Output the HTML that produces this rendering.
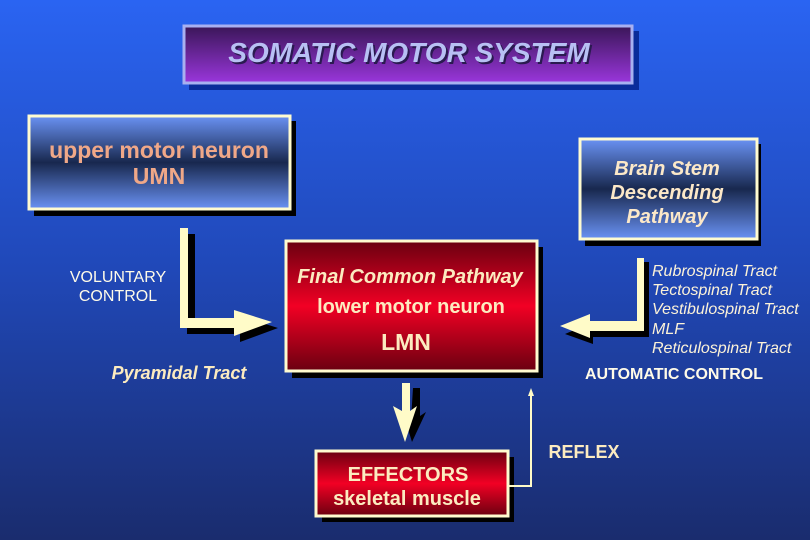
<!DOCTYPE html>
<html><head><meta charset="utf-8"><style>
html,body{margin:0;padding:0}
body{width:810px;height:540px;overflow:hidden;font-family:"Liberation Sans",sans-serif}
</style></head><body>
<svg width="810" height="540" viewBox="0 0 810 540" xmlns="http://www.w3.org/2000/svg" font-family="Liberation Sans, sans-serif">
<defs>
<linearGradient id="bg" x1="0" y1="0" x2="0" y2="1"><stop offset="0" stop-color="#2a64f2"/><stop offset="0.5" stop-color="#2048b8"/><stop offset="1" stop-color="#1a2c6e"/></linearGradient>
<linearGradient id="tg" x1="0" y1="0" x2="0" y2="1"><stop offset="0" stop-color="#3a1658"/><stop offset="1" stop-color="#9a36dc"/></linearGradient>
<linearGradient id="bl" x1="0" y1="0" x2="0" y2="1"><stop offset="0" stop-color="#6a92f4"/><stop offset="0.5" stop-color="#18284e"/><stop offset="1" stop-color="#6a92f4"/></linearGradient>
<linearGradient id="rd" x1="0" y1="0" x2="0" y2="1"><stop offset="0" stop-color="#6a0010"/><stop offset="0.5" stop-color="#f20024"/><stop offset="1" stop-color="#6a0010"/></linearGradient>
</defs>
<rect width="810" height="540" fill="url(#bg)"/>
<!-- title -->
<rect x="189" y="31" width="450" height="59" fill="#0a2c9a"/>
<rect x="184" y="26" width="448" height="57" fill="url(#tg)" stroke="#a8b0f0" stroke-width="3"/>
<text x="411" y="64" text-anchor="middle" font-size="28" font-weight="bold" font-style="italic" fill="#2a1a50">SOMATIC MOTOR SYSTEM</text>
<text x="409" y="62" text-anchor="middle" font-size="28" font-weight="bold" font-style="italic" fill="#b8c0f4">SOMATIC MOTOR SYSTEM</text>
<!-- UMN -->
<rect x="34" y="121" width="262" height="95" fill="#000"/>
<rect x="29" y="116" width="261" height="93" fill="url(#bl)" stroke="#fffbd0" stroke-width="3"/>
<text x="159" y="158" text-anchor="middle" font-size="23" font-weight="bold" fill="#f0a888">upper motor neuron</text>
<text x="159" y="184" text-anchor="middle" font-size="23" font-weight="bold" fill="#f0a888">UMN</text>
<!-- Brain stem -->
<rect x="585" y="144" width="176" height="102" fill="#000"/>
<rect x="580" y="139" width="177" height="100" fill="url(#bl)" stroke="#fffbd0" stroke-width="3"/>
<g font-size="20" font-weight="bold" font-style="italic" fill="#fce8c8" text-anchor="middle">
<text x="667" y="175">Brain Stem</text><text x="667" y="199">Descending</text><text x="667" y="223">Pathway</text></g>
<!-- LMN -->
<rect x="292" y="247" width="251" height="131" fill="#000"/>
<rect x="286" y="241" width="251" height="130" fill="url(#rd)" stroke="#fffbd0" stroke-width="3"/>
<text x="410" y="283" text-anchor="middle" font-size="20" font-weight="bold" font-style="italic" fill="#fcebc0">Final Common Pathway</text>
<text x="411" y="313" text-anchor="middle" font-size="20" font-weight="bold" fill="#fcebc0">lower motor neuron</text>
<text x="406" y="350" text-anchor="middle" font-size="23" font-weight="bold" fill="#fcebc0">LMN</text>
<!-- effectors -->
<rect x="322" y="457" width="192" height="65" fill="#000"/>
<rect x="316" y="451" width="192" height="65" fill="url(#rd)" stroke="#fffbd0" stroke-width="3"/>
<text x="408" y="481" text-anchor="middle" font-size="20" font-weight="bold" fill="#fcebc0">EFFECTORS</text>
<text x="407" y="505" text-anchor="middle" font-size="20" font-weight="bold" fill="#fcebc0">skeletal muscle</text>
<!-- left L arrow -->
<path d="M187 234 h8 v90 h45 v-8 l38 12 l-38 14 v-8 h-53 z" fill="#000"/>
<path d="M180 228 h8 v90 h46 v-8 l38 12 l-38 14 v-8 h-54 z" fill="#fffbc8"/>
<!-- right L arrow -->
<path d="M642 262 h7 v75 h-56 v7 l-28 -10 l28 -12 v7 h49 z" fill="#000"/>
<path d="M637 258 h7 v73 h-54 v7 l-30 -12 l30 -12 v7 h47 z" fill="#fffbc8"/>
<!-- down arrow -->
<path d="M413 388 h7 v28 l6 -4 l-14 30 l-8 -26 l7 4 z" fill="#000"/>
<path d="M402 383 h8 v28 l7 -5 l-12 36 l-12 -36 l9 5 z" fill="#fffbc8"/>
<!-- reflex -->
<path d="M509 486 H531 V394" fill="none" stroke="#fffbc8" stroke-width="2"/>
<path d="M528 396 l3 -8 l3 8 z" fill="#fffbc8"/>
<!-- labels -->
<g font-size="16" fill="#fffbe8" text-anchor="middle">
<text x="118" y="282">VOLUNTARY</text><text x="118" y="301">CONTROL</text></g>
<text x="179" y="379" text-anchor="middle" font-size="18" font-weight="bold" font-style="italic" fill="#fcebc0">Pyramidal Tract</text>
<g font-size="16" font-style="italic" fill="#fcf2d8">
<text x="652" y="276">Rubrospinal Tract</text><text x="652" y="295">Tectospinal Tract</text><text x="652" y="314">Vestibulospinal Tract</text><text x="652" y="334">MLF</text><text x="652" y="353">Reticulospinal Tract</text></g>
<text x="674" y="379" text-anchor="middle" font-size="16" font-weight="bold" fill="#fffbe8">AUTOMATIC CONTROL</text>
<text x="584" y="458" text-anchor="middle" font-size="18" font-weight="bold" fill="#fcebc0">REFLEX</text>
</svg>
</body></html>
